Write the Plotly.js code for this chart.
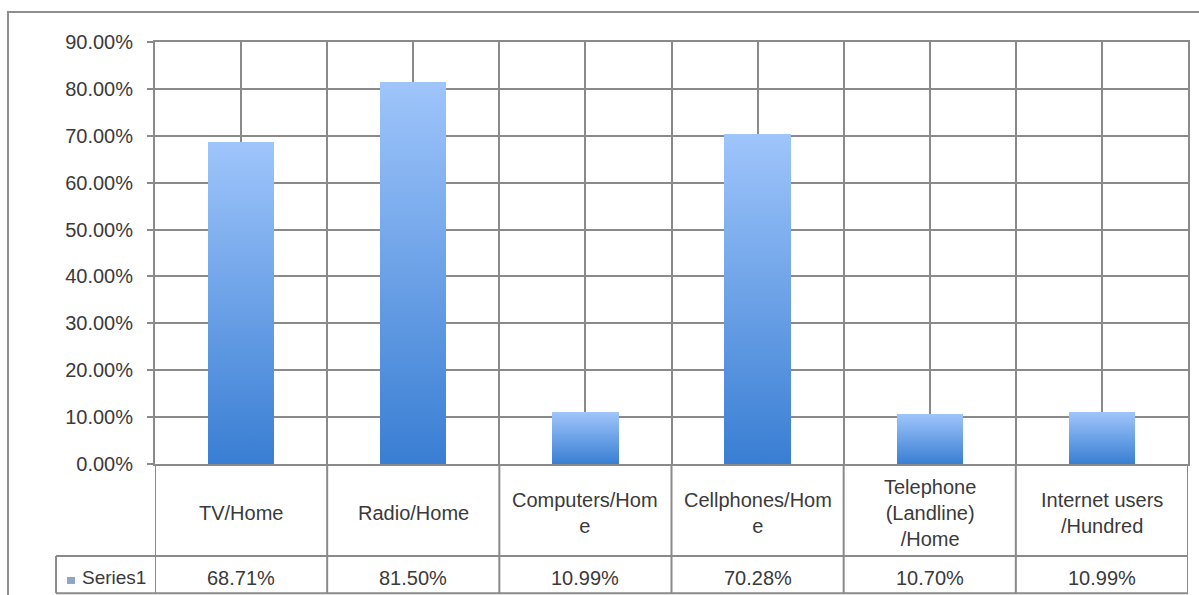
<!DOCTYPE html>
<html>
<head>
<meta charset="utf-8">
<script src="https://cdn.plot.ly/plotly-3.0.1.min.js"></script>
<style>
  html, body { margin: 0; padding: 0; background: #ffffff; }
  #chart { width: 1199px; height: 595px; }
</style>
</head>
<body>
<div id="chart"></div>
<script>
// ---- data ----
const categories = ["TV/Home", "Radio/Home", "Computers/Home", "Cellphones/Home", "Telephone (Landline) /Home", "Internet users /Hundred"];
const categoryLabels = ["TV/Home", "Radio/Home", "Computers/Hom<br>e", "Cellphones/Hom<br>e", "Telephone<br>(Landline)<br>/Home", "Internet users<br>/Hundred"];
const seriesName = "Series1";
const seriesValues = [0.6871, 0.8150, 0.1099, 0.7028, 0.1070, 0.1099];
const yTickValues = [0, 0.1, 0.2, 0.3, 0.4, 0.5, 0.6, 0.7, 0.8, 0.9];

// ---- styling ----
const FONT = "Liberation Sans, Arial, sans-serif";
const TEXT = "#3a3a3a";
const GRID = "#8a8a8a";
const LW = 2;
const FS = 20;

const idx = categories.map((c, i) => i);
const bounds = [-0.5].concat(idx.map(i => i + 0.5));

// geometry helpers in paper coords (plot area: y 0 .. 1)
const rowLabelMid = -0.1160;
const rowSplit = -0.218;
const rowValueMid = -0.2690;
const tableBottom = -0.306;
const leftCellX = -0.0958;

const shapes = [];
// vertical table lines under plot, continuing category boundaries
bounds.forEach(b => {
  shapes.push({type: "line", xref: "x", yref: "paper", x0: b, x1: b, y0: 0, y1: tableBottom,
    line: {color: GRID, width: LW}});
});
// horizontal split between label row and value row
shapes.push({type: "line", xref: "paper", yref: "paper", x0: leftCellX, x1: 1, y0: rowSplit, y1: rowSplit,
  line: {color: GRID, width: LW}});
// table bottom
shapes.push({type: "line", xref: "paper", yref: "paper", x0: leftCellX, x1: 1, y0: tableBottom, y1: tableBottom,
  line: {color: GRID, width: LW}});
// left edge of Series1 cell
shapes.push({type: "line", xref: "paper", yref: "paper", x0: leftCellX, x1: leftCellX, y0: rowSplit, y1: tableBottom,
  line: {color: GRID, width: LW}});
// legend key square
shapes.push({type: "rect", xref: "paper", yref: "paper", x0: -0.0852, x1: -0.0774, y0: -0.2678, y1: -0.2844,
  fillcolor: "#8fa6c4", line: {width: 0}});
// outer chart border
shapes.push({type: "rect", xref: "paper", yref: "paper", x0: -0.1423, x1: 1.03, y0: 1.0711, y1: -0.4,
  line: {color: "#8f8f8f", width: 2}, fillcolor: "rgba(0,0,0,0)", layer: "below"});

const annotations = [];
categoryLabels.forEach((lab, i) => {
  annotations.push({xref: "x", yref: "paper", x: i, y: rowLabelMid, text: lab, showarrow: false,
    xanchor: "center", yanchor: "middle", align: "center",
    font: {family: FONT, size: FS, color: TEXT}});
});
seriesValues.forEach((v, i) => {
  annotations.push({xref: "x", yref: "paper", x: i, y: rowValueMid, text: (v * 100).toFixed(2) + "%", showarrow: false,
    xanchor: "center", yanchor: "middle",
    font: {family: FONT, size: FS, color: TEXT}});
});
annotations.push({xref: "paper", yref: "paper", x: -0.0725, y: rowValueMid, text: seriesName, showarrow: false,
  xanchor: "left", yanchor: "middle", font: {family: FONT, size: 19, color: TEXT}});

const trace = {
  type: "bar",
  x: idx,
  y: seriesValues,
  name: seriesName,
  width: 0.385,
  marker: {color: "#6fa3ea", line: {width: 0}},
  hoverinfo: "y"
};

const layout = {
  width: 1199, height: 595,
  margin: {l: 155, r: 11, t: 42, b: 131},
  paper_bgcolor: "#ffffff",
  plot_bgcolor: "#ffffff",
  showlegend: false,
  bargap: 0,
  xaxis: {
    range: [-0.5, categories.length - 0.5],
    tickmode: "array", tickvals: idx, ticktext: categories.map(() => ""),
    showticklabels: false, ticks: "",
    showgrid: true, gridcolor: GRID, gridwidth: LW,
    minor: {tickmode: "array", tickvals: bounds, showgrid: true, gridcolor: GRID, gridwidth: LW, ticks: ""},
    zeroline: false, showline: true, linecolor: GRID, linewidth: LW, mirror: true,
    fixedrange: true
  },
  yaxis: {
    range: [0, 0.9],
    tickmode: "array", tickvals: yTickValues, tickformat: ".2%",
    ticks: "outside", ticklen: 6, tickcolor: GRID, tickwidth: LW,
    tickfont: {family: FONT, size: 20, color: TEXT},
    showgrid: true, gridcolor: GRID, gridwidth: LW,
    zeroline: false, showline: true, linecolor: GRID, linewidth: LW, mirror: true,
    ticklabelstandoff: 10,
    fixedrange: true
  },
  shapes: shapes,
  annotations: annotations
};

Plotly.newPlot("chart", [trace], layout, {displayModeBar: false, staticPlot: true}).then(gd => {
  const svg = gd.querySelector("svg.main-svg");
  const ns = "http://www.w3.org/2000/svg";
  let defs = svg.querySelector("defs");
  if (!defs) { defs = document.createElementNS(ns, "defs"); svg.insertBefore(defs, svg.firstChild); }
  const lg = document.createElementNS(ns, "linearGradient");
  lg.setAttribute("id", "barGrad");
  lg.setAttribute("x1", "0"); lg.setAttribute("y1", "0");
  lg.setAttribute("x2", "0"); lg.setAttribute("y2", "1");
  [["0%", "#9fc5fb"], ["100%", "#397ed3"]].forEach(([o, c]) => {
    const s = document.createElementNS(ns, "stop");
    s.setAttribute("offset", o); s.setAttribute("stop-color", c);
    lg.appendChild(s);
  });
  defs.appendChild(lg);
  gd.querySelectorAll(".barlayer .point path").forEach(p => { p.style.fill = "url(#barGrad)"; });
});
</script>
</body>
</html>
